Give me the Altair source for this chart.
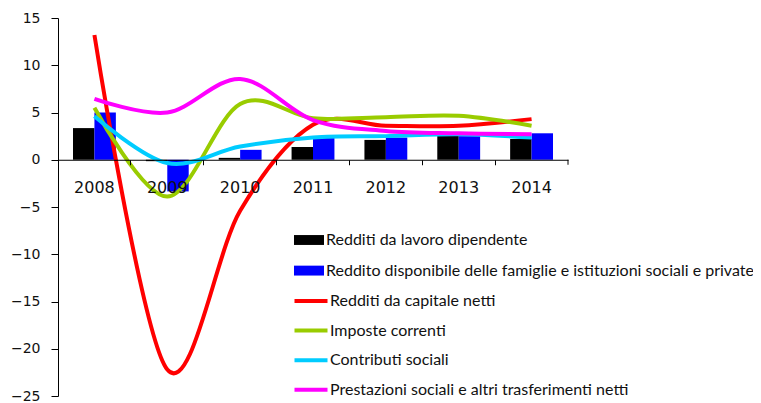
import altair as alt
import pandas as pd

years = ["2008", "2009", "2010", "2011", "2012", "2013", "2014"]

bar_series = ["Redditi da lavoro dipendente",
              "Reddito disponibile delle famiglie e istituzioni sociali e private"]
lavoro = [3.35, -0.15, 0.2, 1.35, 2.1, 2.55, 2.2]
disponibile = [5.0, -3.35, 1.05, 2.45, 2.35, 2.5, 2.8]

line_series = ["Redditi da capitale netti", "Imposte correnti",
               "Contributi sociali", "Prestazioni sociali e altri trasferimenti netti"]
capitale = [13.2, -22.2, -5.4, 3.7, 3.6, 3.6, 4.3]
imposte = [5.5, -3.9, 5.9, 4.4, 4.5, 4.65, 3.6]
contributi = [4.6, -0.35, 1.4, 2.35, 2.5, 2.7, 2.35]
prestazioni = [6.45, 5.0, 8.55, 4.2, 3.05, 2.8, 2.7]

bar_colors = ["#000000", "#0000FF"]
line_colors = ["#FF0000", "#99CC00", "#00CCFF", "#FF00FF"]

bars = pd.DataFrame(
    [{"year": y, "series": s, "value": v}
     for s, vals in zip(bar_series, [lavoro, disponibile])
     for y, v in zip(years, vals)])
lines = pd.DataFrame(
    [{"year": y, "series": s, "value": v, "order": i}
     for i, (s, vals) in enumerate(zip(line_series, [capitale, imposte, contributi, prestazioni]))
     for y, v in zip(years, vals)])

W, H = 510, 378
YMIN, YMAX = -25, 15
zero_offset = -(H - H * YMAX / (YMAX - YMIN))

x_scale = alt.Scale(domain=years, paddingInner=0, paddingOuter=0)
y_scale = alt.Scale(domain=[YMIN, YMAX], nice=False)

x_axis = alt.Axis(title=None, offset=zero_offset, bandPosition=0, zindex=1,
                  tickSize=5, labelPadding=15, labelFontSize=16, labelFont="DejaVu Sans",
                  labelColor="#111111", domainColor="#000000", tickColor="#000000",
                  labelAngle=0, grid=False)
y_axis = alt.Axis(title=None, values=list(range(YMIN, YMAX + 1, 5)), tickSize=7,
                  labelPadding=11, labelFontSize=14, labelFont="DejaVu Sans",
                  labelColor="#111111", domainColor="#000000", tickColor="#000000",
                  grid=False)

bar_layer = alt.Chart(bars).mark_bar().encode(
    x=alt.X("year:N", scale=x_scale, axis=x_axis),
    xOffset=alt.XOffset("series:N", sort=bar_series,
                        scale=alt.Scale(domain=bar_series, paddingInner=0, paddingOuter=0.7)),
    y=alt.Y("value:Q", scale=y_scale, axis=y_axis),
    fill=alt.Fill("series:N", sort=bar_series,
                  scale=alt.Scale(domain=bar_series, range=bar_colors),
                  legend=alt.Legend(title=None, orient="none", legendX=236, legendY=207,
                                    symbolType="M-1,-0.33L1,-0.33L1,0.33L-1,0.33Z",
                                    symbolSize=900, symbolStrokeWidth=0, labelOffset=2,
                                    rowPadding=7.6, padding=0, labelFont="Lato",
                                    labelFontSize=16, labelColor="#111111",
                                    labelLimit=600)),
)

line_layer = alt.Chart(lines).mark_line(interpolate="cardinal", tension=0, strokeWidth=4).encode(
    x=alt.X("year:N", scale=x_scale),
    y=alt.Y("value:Q", scale=y_scale),
    stroke=alt.Stroke("series:N", sort=line_series,
                      scale=alt.Scale(domain=line_series, range=line_colors),
                      legend=alt.Legend(title=None, orient="none", legendX=236, legendY=266,
                                        symbolType="M-1.1,0L1.1,0", symbolSize=900,
                                        symbolStrokeWidth=4, labelOffset=2,
                                        rowPadding=4.6, padding=0, labelFont="Lato",
                                        labelFontSize=16, labelColor="#111111",
                                        labelLimit=600)),
    order=alt.Order("order:Q"),
)

end_tick = alt.Chart(pd.DataFrame({"v": [0]})).mark_rule(color="#000000").encode(
    x=alt.value(W), y=alt.datum(0), y2=alt.datum(-0.53))

chart = alt.layer(bar_layer, line_layer, end_tick).properties(
    width=W, height=H, autosize="none",
    padding={"left": 50, "top": 10, "right": 185, "bottom": 8},
    background="white",
).configure_view(stroke=None)

chart.save("out.html", embed_options={"renderer": "svg", "actions": False})
